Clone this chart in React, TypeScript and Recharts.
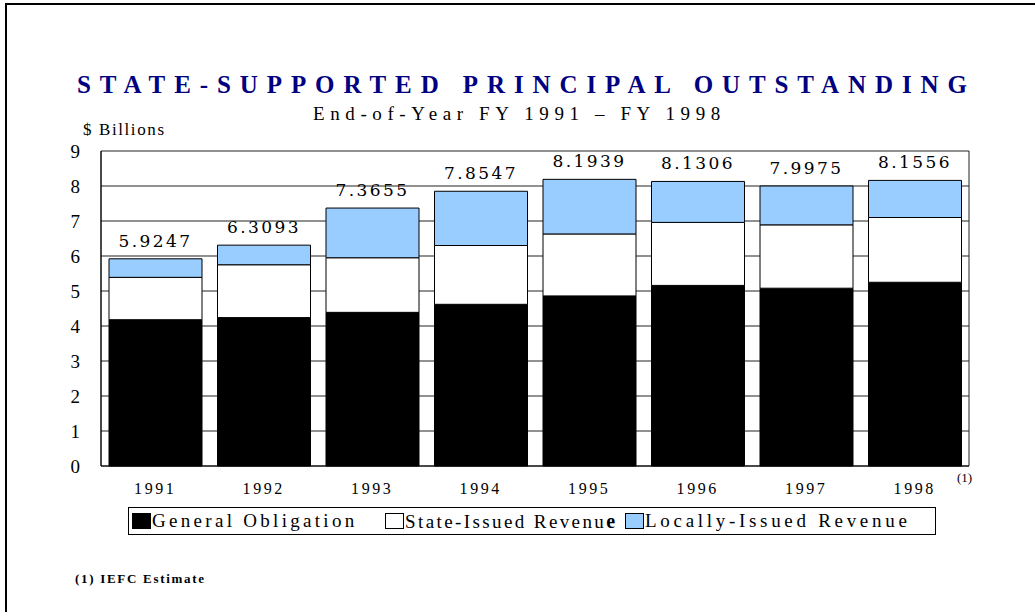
import React from "react";
import { BarChart, Bar, XAxis, YAxis, CartesianGrid, LabelList } from "recharts";

const years = ["1991", "1992", "1993", "1994", "1995", "1996", "1997", "1998"];
const generalObligation = [4.18, 4.24, 4.39, 4.62, 4.86, 5.16, 5.08, 5.25];
const stateIssued = [1.21, 1.51, 1.56, 1.68, 1.77, 1.8, 1.81, 1.85];
const locallyIssued = [0.53, 0.56, 1.42, 1.55, 1.56, 1.17, 1.11, 1.06];
const totalLabels = ["5.9247", "6.3093", "7.3655", "7.8547", "8.1939", "8.1306", "7.9975", "8.1556"];
const yTicks = [0, 1, 2, 3, 4, 5, 6, 7, 8, 9];

const SERIF = "'Liberation Serif', 'Times New Roman', serif";

const data = years.map((y, i) => ({
  year: y,
  go: generalObligation[i],
  state: stateIssued[i],
  local: locallyIssued[i],
  total: totalLabels[i],
}));

// left edge (inside the box) and tracking of each legend entry
const legendItems = [
  { label: "General Obligation", color: "#000000", x: 3, ls: 3.3 },
  { label: "State-Issued Revenue", color: "#ffffff", x: 256, ls: 2.4 },
  { label: "Locally-Issued Revenue", color: "#99ccff", x: 496, ls: 3.7 },
];

function LegendBox() {
  return (
    <div
      style={{
        position: "absolute", left: 128, top: 507, width: 808, height: 28,
        boxSizing: "border-box", border: "1.5px solid #000",
        fontFamily: SERIF, fontSize: 19, color: "#000",
      }}
    >
      {legendItems.map((it, i) => (
        <div key={it.label} style={{ position: "absolute", left: it.x, top: 1, display: "flex", alignItems: "center", height: 24 }}>
          <span style={{ width: 17, height: 14, background: it.color, border: "1px solid #000", marginRight: 1 }} />
          <span style={{ whiteSpace: "nowrap", letterSpacing: it.ls }}>
            {i === 1 ? (
              <>State-Issued Revenu<b style={{ fontSize: 20 }}>e</b></>
            ) : (
              it.label
            )}
          </span>
        </div>
      ))}
    </div>
  );
}

export default function App() {
  return (
    <div style={{ position: "fixed", left: 0, top: 0, width: 1035, height: 612, background: "#fff" }}>
      {/* page frame: top and left edges only */}
      <div style={{ position: "absolute", left: 5, top: 3, width: 1030, height: 2, background: "#000" }} />
      <div style={{ position: "absolute", left: 5, top: 3, width: 2, height: 609, background: "#000" }} />

      <div
        style={{
          position: "absolute", left: 77, top: 71, whiteSpace: "nowrap",
          fontFamily: SERIF, fontWeight: 700, fontSize: 25, letterSpacing: 8.9, color: "#000080",
        }}
      >
        STATE-SUPPORTED PRINCIPAL OUTSTANDING
      </div>
      <div
        style={{
          position: "absolute", left: 313, top: 103, whiteSpace: "nowrap",
          fontFamily: SERIF, fontSize: 19, letterSpacing: 5.6, color: "#000",
        }}
      >
        End-of-Year FY 1991 – FY 1998
      </div>
      <div style={{ position: "absolute", left: 83, top: 120, fontFamily: SERIF, fontSize: 17, letterSpacing: 1.6 }}>
        $ Billions
      </div>

      <BarChart
        width={1035}
        height={612}
        data={data}
        margin={{ top: 151, right: 66, bottom: 116, left: 61 }}
        barCategoryGap={8}
        style={{ position: "absolute", left: 0, top: 0 }}
      >
        <CartesianGrid
          stroke="#222"
          strokeWidth={1}
          vertical
          horizontal
          verticalCoordinatesGenerator={({ offset }: any) => [offset.left, offset.left + offset.width]}
        />
        <XAxis
          dataKey="year"
          height={30}
          tickSize={0}
          tickMargin={17}
          axisLine={{ stroke: "#000" }}
          tick={{ fontFamily: SERIF, fontSize: 16, fill: "#000", letterSpacing: 2.6 }}
        />
        <YAxis
          width={40}
          domain={[0, 9]}
          ticks={yTicks}
          interval={0}
          tickSize={0}
          tickMargin={21}
          axisLine={{ stroke: "#000" }}
          tick={{ fontFamily: SERIF, fontSize: 19, fill: "#000" }}
        />
        <Bar dataKey="go" stackId="a" fill="#000" stroke="#000" strokeWidth={1} isAnimationActive={false} />
        <Bar dataKey="state" stackId="a" fill="#fff" stroke="#000" strokeWidth={1} isAnimationActive={false} />
        <Bar dataKey="local" stackId="a" fill="#99ccff" stroke="#000" strokeWidth={1} isAnimationActive={false}>
          <LabelList
            dataKey="total"
            position="top"
            offset={12}
            style={{ fontFamily: "'DejaVu Serif', serif", fontSize: 17, fill: "#000", letterSpacing: 2.4 }}
          />
        </Bar>
      </BarChart>

      <div style={{ position: "absolute", left: 957, top: 470, fontFamily: SERIF, fontSize: 13 }}>(1)</div>

      <LegendBox />

      <div
        style={{
          position: "absolute", left: 75, top: 571, fontFamily: SERIF, fontWeight: 700,
          fontSize: 13, letterSpacing: 1.7,
        }}
      >
        (1) IEFC Estimate
      </div>
    </div>
  );
}
